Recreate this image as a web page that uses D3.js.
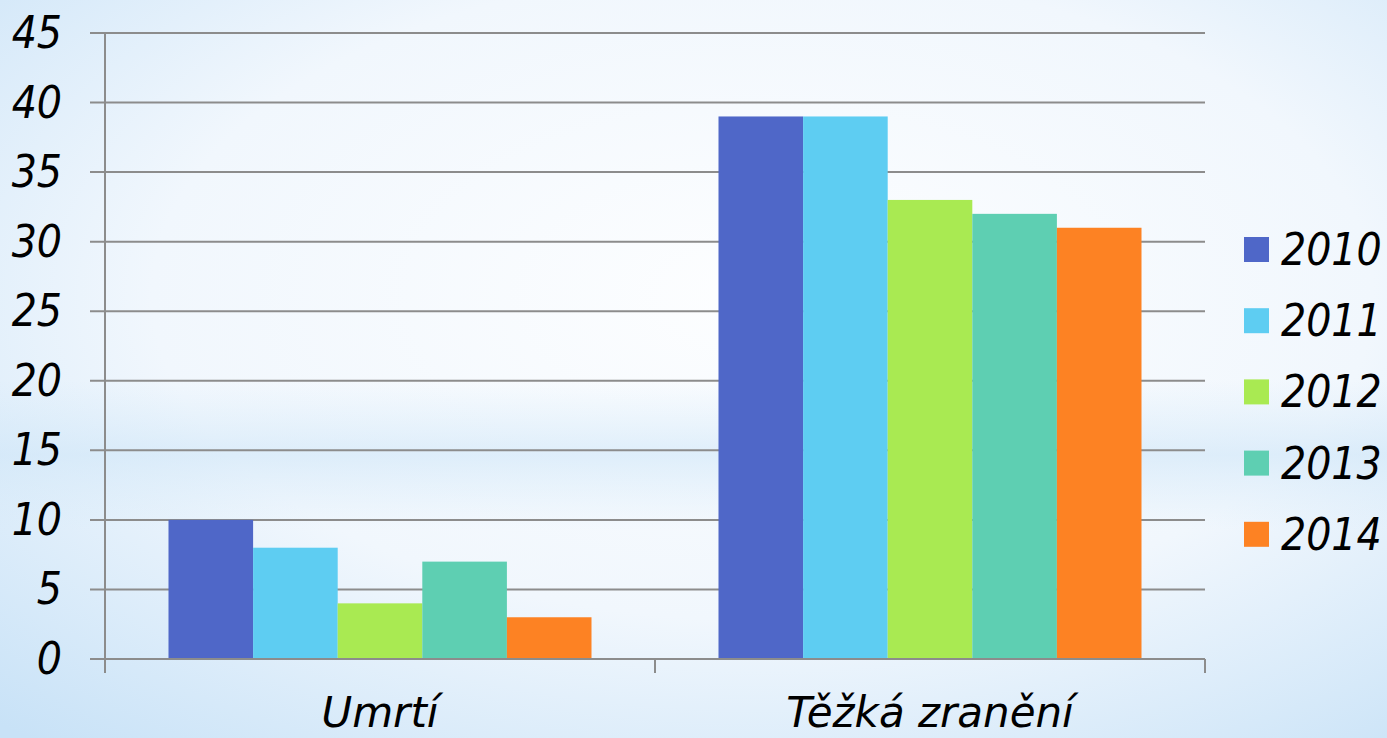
<!DOCTYPE html>
<html>
<head>
<meta charset="utf-8">
<script src="https://cdn.jsdelivr.net/npm/d3@7"></script>
<style>
  html, body { margin: 0; padding: 0; }
  body { width: 1387px; height: 738px; overflow: hidden; }
  text { font-family: "DejaVu Sans Condensed", "DejaVu Sans", sans-serif; font-style: italic; fill: #000; }
  text.cat { font-family: "DejaVu Sans", sans-serif; }
</style>
</head>
<body>
<div id="chart"></div>
<script>
var categories = ['Umrtí', 'Těžká zranění']
var years = ['2010', '2011', '2012', '2013', '2014']
var values2010 = [10, 39]
var values2011 = [8, 39]
var values2012 = [4, 33]
var values2013 = [7, 32]
var values2014 = [3, 31]
var colors = ['#4f67c8', '#5ecdf2', '#a9ea52', '#5ecfb2', '#fd8223']
var yTicks = [0, 5, 10, 15, 20, 25, 30, 35, 40, 45]

var series = [values2010, values2011, values2012, values2013, values2014]

var W = 1387, H = 738
var m = {left: 105, right: 1205, top: 33, bottom: 659}

var svg = d3.select('#chart').append('svg').attr('width', W).attr('height', H)

// pozadi
var defs = svg.append('defs')
var rg = defs.append('radialGradient').attr('id', 'bg')
  .attr('cx', '0.55').attr('cy', '0.4').attr('r', '0.8')
rg.append('stop').attr('offset', '0%').attr('stop-color', '#fdfeff')
rg.append('stop').attr('offset', '55%').attr('stop-color', '#f1f7fd')
rg.append('stop').attr('offset', '100%').attr('stop-color', '#c8e2f7')
svg.append('rect').attr('width', W).attr('height', H).attr('fill', 'url(#bg)')

var band = defs.append('linearGradient').attr('id', 'band').attr('x1', 0).attr('x2', 0).attr('y1', 0).attr('y2', 1)
band.append('stop').attr('offset', '0%').attr('stop-color', '#d3e9f9').attr('stop-opacity', 0)
band.append('stop').attr('offset', '50%').attr('stop-color', '#cfe6f8').attr('stop-opacity', 0.6)
band.append('stop').attr('offset', '100%').attr('stop-color', '#d3e9f9').attr('stop-opacity', 0)
svg.append('rect').attr('x', 0).attr('y', 380).attr('width', W).attr('height', 150).attr('fill', 'url(#band)')

var y = d3.scaleLinear().domain([0, 45]).range([m.bottom, m.top])
var x0 = d3.scaleBand().domain(categories).range([m.left, m.right])
var x1 = d3.scaleBand().domain(years).range([63.5, x0.bandwidth() - 63.5])

// mrizka
svg.append('g').selectAll('line').data(yTicks).join('line')
  .attr('x1', m.left - 15).attr('x2', m.right)
  .attr('y1', d => y(d)).attr('y2', d => y(d))
  .attr('stroke', '#8c8c8c').attr('stroke-width', 2)

// sloupce
var g = svg.append('g')
categories.forEach(function(cat, ci){
  years.forEach(function(yr, yi){
    var v = series[yi][ci]
    g.append('rect')
      .attr('x', x0(cat) + x1(yr))
      .attr('width', x1.bandwidth())
      .attr('y', y(v))
      .attr('height', y(0) - y(v))
      .attr('fill', colors[yi])
  })
})

// osy
svg.append('line').attr('x1', m.left).attr('x2', m.left).attr('y1', m.top).attr('y2', m.bottom + 14)
  .attr('stroke', '#8c8c8c').attr('stroke-width', 2)
svg.append('line').attr('x1', m.left - 15).attr('x2', m.right).attr('y1', y(0)).attr('y2', y(0))
  .attr('stroke', '#8c8c8c').attr('stroke-width', 2)
var xt = [m.left].concat(categories.map(c => x0(c) + x0.bandwidth()))
svg.append('g').selectAll('line').data(xt).join('line')
  .attr('x1', d => d).attr('x2', d => d).attr('y1', m.bottom).attr('y2', m.bottom + 14)
  .attr('stroke', '#8c8c8c').attr('stroke-width', 2)

svg.append('g').selectAll('text').data(yTicks).join('text')
  .attr('x', 62).attr('y', d => y(d) + 15)
  .attr('text-anchor', 'end').style('font-size', '44px')
  .text(d => d)

svg.append('g').selectAll('text').data(categories).join('text')
  .attr('class', 'cat')
  .attr('x', d => x0(d) + x0.bandwidth() / 2).attr('y', 727)
  .attr('text-anchor', 'middle').style('font-size', '42px')
  .text(d => d)

// legenda
var leg = svg.append('g').selectAll('g').data(years).join('g')
  .attr('transform', (d, i) => 'translate(1244,' + (237 + i * 71.2) + ')')
leg.append('rect').attr('width', 25).attr('height', 25).attr('fill', (d, i) => colors[i])
leg.append('text').attr('x', 37).attr('y', 28).style('font-size', '44px').text(d => d)
</script>
</body>
</html>
